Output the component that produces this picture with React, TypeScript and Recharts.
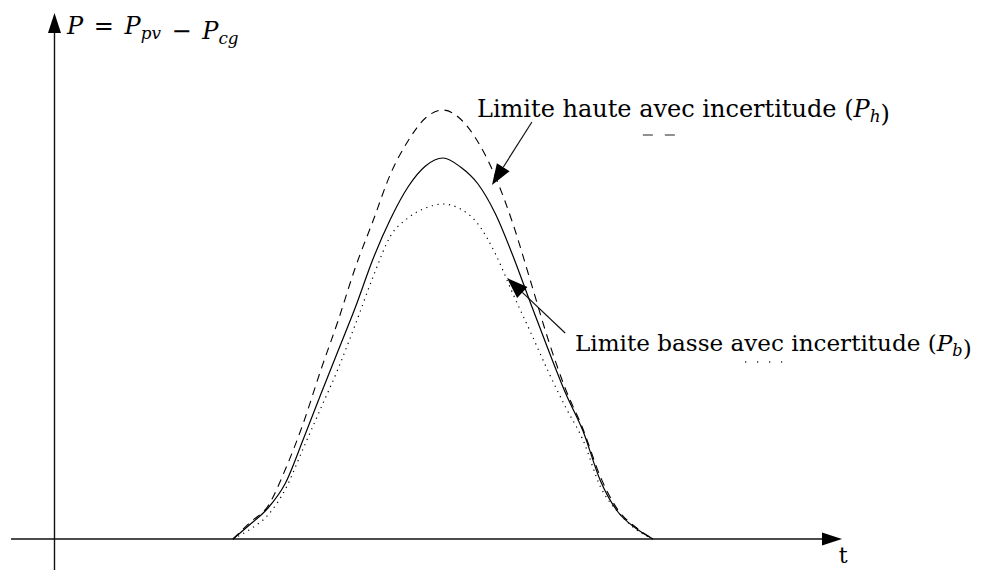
import React from "react";
import { LineChart, Line, XAxis, YAxis, ReferenceLine, ReferenceDot } from "recharts";

// time of day (h) and power curves (1 unit = one grid of 100 px)
const hours = [6, 6.5, 7, 7.5, 8, 8.5, 9, 9.5, 10, 10.5, 11, 11.5, 12, 12.5, 13, 13.5, 14, 14.5, 15, 15.5, 16, 16.5, 17, 17.5, 18];
const pMid = [0, 0.15, 0.31, 0.56, 0.99, 1.44, 1.88, 2.32, 2.8, 3.2, 3.52, 3.73, 3.81, 3.72, 3.55, 3.25, 2.83, 2.36, 1.9, 1.46, 1.08, 0.58, 0.27, 0.11, 0];
const pHigh = [0, 0.17, 0.33, 0.7, 1.15, 1.68, 2.18, 2.72, 3.18, 3.65, 3.98, 4.21, 4.29, 4.2, 3.97, 3.62, 3.15, 2.58, 2.0, 1.5, 1.1, 0.62, 0.29, 0.12, 0];
const pLow = [0, 0.1, 0.24, 0.5, 0.9, 1.3, 1.7, 2.15, 2.62, 3.03, 3.21, 3.31, 3.35, 3.3, 3.15, 2.85, 2.45, 2.07, 1.68, 1.32, 0.99, 0.52, 0.27, 0.1, 0];

const data = hours.map((t, i) => ({ t, mid: pMid[i], high: pHigh[i], low: pLow[i] }));

const W = 982;
const H = 578;
const T_DOMAIN: [number, number] = [-0.657, 27.4];
const P_DOMAIN: [number, number] = [-0.39, 5.39];

const FONT = '"DejaVu Serif", "Liberation Serif", serif';

type ArrowProps = { x1?: number; y1?: number; x2?: number; y2?: number; len?: number; half?: number; width?: number };

function Arrow({ x1 = 0, y1 = 0, x2 = 0, y2 = 0, len = 20, half = 7, width = 1.2 }: ArrowProps) {
  const a = Math.atan2(y2 - y1, x2 - x1);
  const bx = x2 - len * Math.cos(a);
  const by = y2 - len * Math.sin(a);
  const px = -Math.sin(a) * half;
  const py = Math.cos(a) * half;
  return (
    <g>
      <line x1={x1} y1={y1} x2={bx} y2={by} stroke="#111" strokeWidth={width} />
      <polygon points={`${x2},${y2} ${bx + px},${by + py} ${bx - px},${by - py}`} fill="#000" />
    </g>
  );
}

const sub = (s: string) => (
  <>
    <tspan fontStyle="italic">P</tspan>
    <tspan fontStyle="italic" fontSize="0.7em" dy={5}>{s}</tspan>
    <tspan dy={-5}></tspan>
  </>
);

export default function App() {
  return (
    <div style={{ margin: -8, width: W, height: H }}>
      <LineChart width={W} height={H} data={data} margin={{ top: 0, right: 0, bottom: 0, left: 0 }}>
        <XAxis type="number" dataKey="t" domain={T_DOMAIN} hide allowDataOverflow />
        <YAxis type="number" domain={P_DOMAIN} hide allowDataOverflow />

        {/* axes with arrow heads */}
        <ReferenceLine segment={[{ x: -0.343, y: 0 }, { x: 23.4, y: 0 }]} shape={(p: any) => <Arrow {...p} len={20} half={6.5} width={1.4} />} />
        <ReferenceLine segment={[{ x: 0.9, y: -0.38 }, { x: 0.9, y: 5.26 }]} shape={(p: any) => <Arrow {...p} len={20} half={6.5} width={1.4} />} />

        <Line dataKey="high" type="monotone" stroke="#000" strokeWidth={1.1} strokeDasharray="8 6" dot={false} isAnimationActive={false} />
        <Line dataKey="mid" type="monotone" stroke="#000" strokeWidth={1.2} dot={false} isAnimationActive={false} />
        <Line dataKey="low" type="monotone" stroke="#000" strokeWidth={1.2} strokeDasharray="1.2 4.6" dot={false} isAnimationActive={false} />

        {/* annotations */}
        <ReferenceLine segment={[{ x: 14.54, y: 4.17 }, { x: 13.4, y: 3.54 }]} shape={(p: any) => <Arrow {...p} len={21} half={7.5} />} />
        <ReferenceLine segment={[{ x: 15.49, y: 2.06 }, { x: 13.83, y: 2.61 }]} shape={(p: any) => <Arrow {...p} len={21} half={7.5} />} />
        <ReferenceLine segment={[{ x: 17.71, y: 4.04 }, { x: 18.63, y: 4.04 }]} stroke="#222" strokeWidth={1.2} strokeDasharray="10 12" />
        <ReferenceLine segment={[{ x: 20.63, y: 1.77 }, { x: 21.69, y: 1.77 }]} stroke="#222" strokeWidth={1.3} strokeDasharray="1.2 10.8" />

        <ReferenceDot x={1.257} y={5.05} r={0} shape={(p: any) => (
          <text x={p.cx} y={p.cy} fontFamily={FONT} fontSize={24} wordSpacing={3} fill="#000">
            <tspan fontStyle="italic">P</tspan>
            <tspan> = </tspan>
            {sub("pv")}
            <tspan> − </tspan>
            {sub("cg")}
          </text>
        )} />
        <ReferenceDot x={23.43} y={-0.24} r={0} shape={(p: any) => (
          <text x={p.cx} y={p.cy} fontFamily={FONT} fontSize={22} textAnchor="middle" fill="#000">t</text>
        )} />
        <ReferenceDot x={12.97} y={4.22} r={0} shape={(p: any) => (
          <text x={p.cx} y={p.cy} fontFamily={FONT} fontSize={24} fill="#000">
            <tspan>Limite haute avec incertitude (</tspan>
            {sub("h")}
            <tspan>)</tspan>
          </text>
        )} />
        <ReferenceDot x={15.77} y={1.88} r={0} shape={(p: any) => (
          <text x={p.cx} y={p.cy} fontFamily={FONT} fontSize={23.1} fill="#000">
            <tspan>Limite basse avec incertitude (</tspan>
            {sub("b")}
            <tspan>)</tspan>
          </text>
        )} />
      </LineChart>
    </div>
  );
}
